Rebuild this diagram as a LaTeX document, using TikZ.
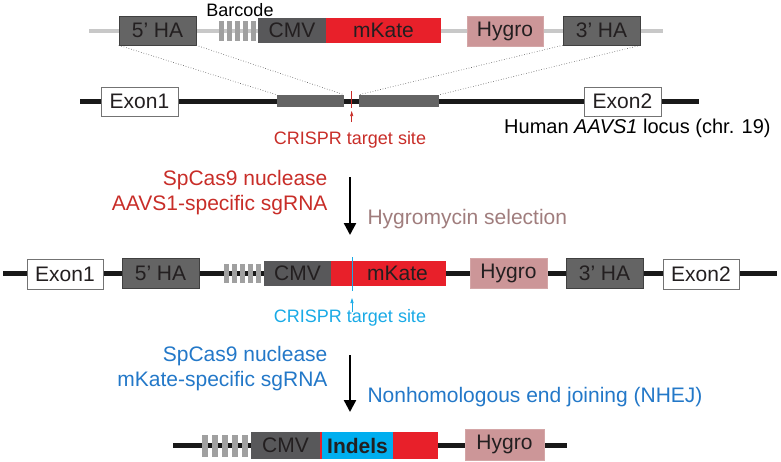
\documentclass[tikz,border=0pt]{standalone}
\usepackage{fontspec}
\setmainfont{Liberation Sans}
\usetikzlibrary{arrows.meta}
\definecolor{hagray}{RGB}{100,100,100}
\definecolor{cmvgray}{RGB}{88,88,90}
\definecolor{bcgray}{RGB}{160,160,160}
\definecolor{lgray}{RGB}{200,200,200}
\definecolor{mkred}{RGB}{232,32,42}
\definecolor{hygpink}{RGB}{204,150,152}
\definecolor{txtred}{RGB}{200,45,40}
\definecolor{txtmauve}{RGB}{160,125,125}
\definecolor{txtblue}{RGB}{35,120,200}
\definecolor{crblue}{RGB}{25,170,230}
\definecolor{indblue}{RGB}{0,174,239}
\definecolor{ink}{RGB}{35,31,32}
\tikzset{
  x=1pt, y=-1pt,
  big/.style={font=\fontsize{21}{24}\selectfont},
  small/.style={font=\fontsize{18}{21}\selectfont},
  blk/.style={big, inner sep=0pt, text=ink, anchor=center},
  habox/.style={blk, fill=hagray, draw=black!75, line width=0.6pt},
  cmvbox/.style={blk, fill=cmvgray},
  mkbox/.style={blk, fill=mkred},
  hygbox/.style={blk, fill=hygpink, draw=hygpink!85!white, line width=0.6pt},
  exbox/.style={blk, fill=white, draw=black!55, line width=0.8pt},
  armblk/.style={inner sep=0pt, fill=hagray},
  stripe/.style={fill=bcgray, inner sep=0pt},
  dna/.style={line width=5pt, black!90},
  vec/.style={line width=4pt, lgray},
  dots/.style={dotted, line width=0.6pt, black!70},
  bigarrow/.style={line width=2.4pt, -{Triangle[width=12pt,length=12pt]}},
  tinyarrow/.style={line width=0.6pt, -{Triangle[width=3pt,length=5pt]}},
}
\begin{document}
\begin{tikzpicture}
\useasboundingbox (0,0) rectangle (781,461);
% ---------- backbones
\coordinate (v1a) at (89,31); \coordinate (v1b) at (663,31);
\draw[vec] (v1a) -- (v1b);
\coordinate (l2a) at (80,101); \coordinate (l2b) at (699,101);
\draw[dna] (l2a) -- (l2b);
\coordinate (l3a) at (3,273.5); \coordinate (l3b) at (777,273.5);
\draw[dna] (l3a) -- (l3b);
\coordinate (l4a) at (173,445); \coordinate (l4b) at (567,445);
\draw[dna] (l4a) -- (l4b);

% ---------- row 1: donor construct
\node[habox, minimum width=77pt, minimum height=29pt] (ha5t) at (157.5,30.5) {5' HA};
\node[small, anchor=center] (bclab) at (240,10) {Barcode};
\foreach \i in {0,...,4}{
  \node[stripe, minimum width=5pt, minimum height=20pt] (bct\i) at (221.5+8*\i,31) {};
}
\node[cmvbox, minimum width=68pt, minimum height=25pt] (cmvt) at (292,30.5) {CMV};
\node[mkbox, minimum width=115pt, minimum height=25pt] (mkt) at (383.5,30.5) {mKate};
\node[hygbox, minimum width=76pt, minimum height=30pt] (hygt) at (505,31) {Hygro};
\node[habox, minimum width=77pt, minimum height=29pt] (ha3t) at (601.5,30.5) {3' HA};

% ---------- row 2: AAVS1 locus
\node[exbox, minimum width=77pt, minimum height=29pt] (ex1a) at (139.5,101.5) {Exon1};
\node[armblk, minimum width=67pt, minimum height=12pt] (armL) at (310.5,101) {};
\node[armblk, minimum width=80pt, minimum height=12pt] (armR) at (399,101) {};
\node[exbox, minimum width=77pt, minimum height=29pt] (ex2a) at (622.5,101.5) {Exon2};
\coordinate (cut1t) at (351.7,91); \coordinate (cut1b) at (351.7,108);
\draw[txtred, line width=0.9pt] (cut1t) -- (cut1b);
\node[small, text=txtred] (cr1) at (350,140) {CRISPR target site};
\coordinate (sa1) at (351.7,122); \coordinate (sa1e) at (351.7,111);
\draw[tinyarrow, txtred] (sa1) -- (sa1e);
\node[font=\fontsize{20}{23}\selectfont, anchor=west, inner sep=0pt] (locus) at (504,128) {Human \textit{AAVS1} locus (chr. 19)};
\draw[dots] (ha5t.south west) -- (armL.north west);
\draw[dots] (ha5t.south east) -- (armL.north east);
\draw[dots] (ha3t.south west) -- (armR.north west);
\draw[dots] (ha3t.south east) -- (armR.north east);

% ---------- step 1
\coordinate (a1s) at (350,177); \coordinate (a1e) at (350,235);
\draw[bigarrow] (a1s) -- (a1e);
\node[big, text=txtred, anchor=east] (s1a) at (331,180) {SpCas9 nuclease};
\node[big, text=txtred, anchor=east] (s1b) at (331,205) {AAVS1-specific sgRNA};
\node[big, text=txtmauve, anchor=west] (hyg) at (364,219) {Hygromycin selection};

% ---------- row 3: integrated locus
\node[exbox, minimum width=76pt, minimum height=30pt] (ex1b) at (65,274) {Exon1};
\node[habox, minimum width=77pt, minimum height=30pt] (ha5m) at (160.5,273.5) {5' HA};
\foreach \i in {0,...,4}{
  \node[stripe, minimum width=5pt, minimum height=19pt] (bcm\i) at (226.5+8*\i,273.5) {};
}
\node[cmvbox, minimum width=67pt, minimum height=25pt] (cmvm) at (297.5,273.5) {CMV};
\node[mkbox, minimum width=115pt, minimum height=25pt] (mkm) at (388.5,273.5) {\hspace*{18pt}mKate};
\node[hygbox, minimum width=77pt, minimum height=30pt] (hygm) at (508.5,273.5) {Hygro};
\node[habox, minimum width=77pt, minimum height=30pt] (ha3m) at (604.5,273.5) {3' HA};
\node[exbox, minimum width=76pt, minimum height=30pt] (ex2b) at (701,274) {Exon2};
\coordinate (cut2t) at (352,257); \coordinate (cut2b) at (352,291);
\draw[crblue, line width=0.9pt] (cut2t) -- (cut2b);
\coordinate (sa2) at (352,312); \coordinate (sa2e) at (352,298);
\draw[tinyarrow, crblue] (sa2) -- (sa2e);
\node[small, text=crblue] (cr2) at (350,318) {CRISPR target site};

% ---------- step 2
\coordinate (a2s) at (350,355); \coordinate (a2e) at (350,412);
\draw[bigarrow] (a2s) -- (a2e);
\node[big, text=txtblue, anchor=east] (s2a) at (331,356) {SpCas9 nuclease};
\node[big, text=txtblue, anchor=east] (s2b) at (331,381) {mKate-specific sgRNA};
\node[big, text=txtblue, anchor=west] (nhej) at (364,397) {Nonhomologous end joining (NHEJ)};

% ---------- row 4: edited
\foreach \i in {0,...,4}{
  \node[stripe, minimum width=6pt, minimum height=22pt] (bcb\i) at (205+10*\i,446) {};
}
\node[cmvbox, minimum width=69pt, minimum height=27pt] (cmvb) at (285.5,445.5) {CMV};
\node[inner sep=0pt, fill=mkred, minimum width=2pt, minimum height=27pt] (redsl) at (321,445.5) {};
\node[blk, fill=indblue, minimum width=71pt, minimum height=27pt, font=\fontsize{21}{24}\selectfont\bfseries] (indel) at (357.5,445.5) {Indels};
\node[mkbox, minimum width=45pt, minimum height=27pt] (mkb) at (415.5,445.5) {};
\node[hygbox, minimum width=79pt, minimum height=31pt] (hygb) at (504.5,444.5) {Hygro};
\end{tikzpicture}
\end{document}
